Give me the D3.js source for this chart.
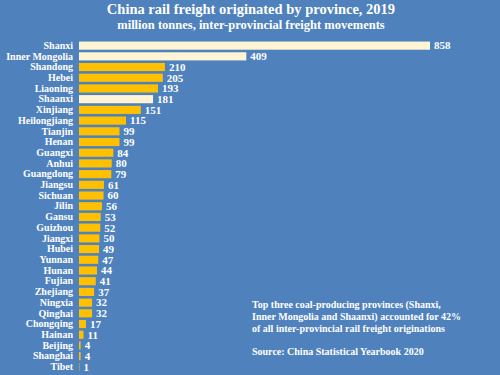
<!DOCTYPE html>
<html><head><meta charset="utf-8">
<script src="https://cdn.jsdelivr.net/npm/d3@7/dist/d3.min.js"></script>
<style>
html,body{margin:0;padding:0;background:#4f81bd;}
svg{display:block;}
text{font-family:"Liberation Serif","DejaVu Serif",serif;font-weight:bold;fill:#fff;}
</style></head><body>
<script>
const provinces = ["Shanxi","Inner Mongolia","Shandong","Hebei","Liaoning","Shaanxi","Xinjiang","Heilongjiang","Tianjin","Henan","Guangxi","Anhui","Guangdong","Jiangsu","Sichuan","Jilin","Gansu","Guizhou","Jiangxi","Hubei","Yunnan","Hunan","Fujian","Zhejiang","Ningxia","Qinghai","Chongqing","Hainan","Beijing","Shanghai","Tibet"];
const values = [858,409,210,205,193,181,151,115,99,99,84,80,79,61,60,56,53,52,50,49,47,44,41,37,32,32,17,11,4,4,1];
const highlighted = ["Shanxi","Inner Mongolia","Shaanxi"];
const titleText = "China rail freight originated by province, 2019";
const subtitleText = "million tonnes, inter-provincial freight movements";
const noteLines = ["Top three coal-producing provinces (Shanxi,","Inner Mongolia and Shaanxi) accounted for 42%","of all inter-provincial rail freight originations"];
const sourceText = "Source: China Statistical Yearbook 2020";

const W=500,H=375;
const svg=d3.select("body").append("svg").attr("width",W).attr("height",H);
svg.append("rect").attr("width",W).attr("height",H).attr("fill","#4f81bd");

const x=d3.scaleLinear().domain([0,858]).range([79,430]);
const y=d3.scaleBand().domain(provinces).range([40.5,372]).paddingInner(0.24).paddingOuter(0.1);

svg.append("text").attr("x",251).attr("y",14).attr("text-anchor","middle").attr("font-size",14.5).text(titleText);
svg.append("text").attr("x",251).attr("y",28.5).attr("text-anchor","middle").attr("font-size",12.5).text(subtitleText);

const data=provinces.map((p,i)=>({p,v:values[i]}));
svg.selectAll("rect.bar").data(data).enter().append("rect").attr("class","bar")
 .attr("x",x(0)).attr("y",d=>y(d.p)).attr("width",d=>x(d.v)-x(0)).attr("height",y.bandwidth())
 .attr("fill",d=>highlighted.includes(d.p)?"#fff5d4":"#ffc000");

const yAxis=d3.axisLeft(y).tickSize(0).tickPadding(6);
const ga=svg.append("g").attr("transform",`translate(${x(0)},0)`).call(yAxis);
ga.select(".domain").remove();
ga.selectAll("text").attr("font-size",10).style("font-family","Liberation Serif, serif").style("font-weight","bold").attr("fill","#fff");

svg.selectAll("text.val").data(data).enter().append("text").attr("class","val")
 .attr("x",d=>x(d.v)+4).attr("y",d=>y(d.p)+y.bandwidth()/2).attr("dy","0.35em")
 .attr("font-size",11).text(d=>d.v);

const note=svg.append("text").attr("x",252).attr("y",308).attr("font-size",10);
noteLines.forEach((l,i)=>note.append("tspan").attr("x",252).attr("y",308+i*12).text(l));
svg.append("text").attr("x",252).attr("y",355).attr("font-size",10).text(sourceText);
</script>
</body></html>
